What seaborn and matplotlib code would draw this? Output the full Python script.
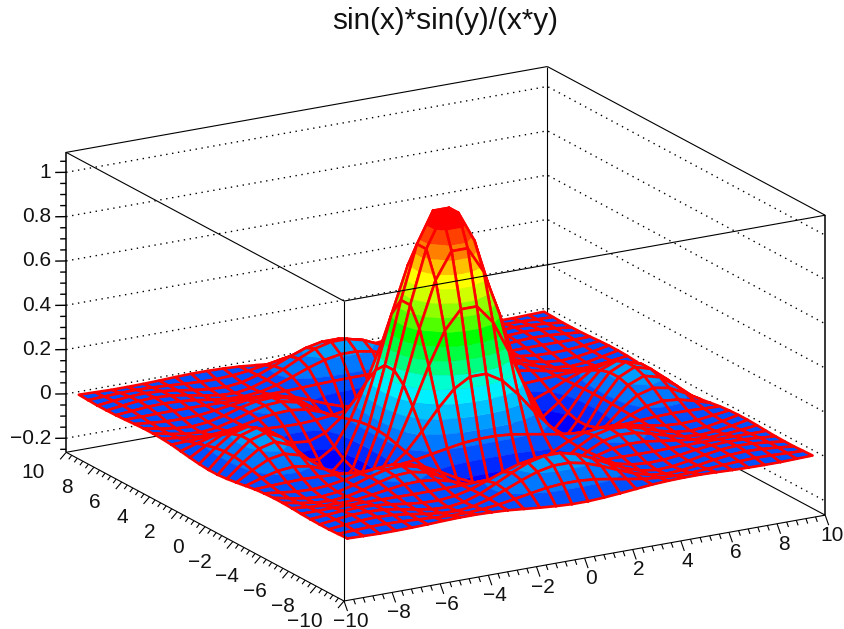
import numpy as np
import matplotlib
matplotlib.use("Agg")
import matplotlib.pyplot as plt
import seaborn as sns
from mpl_toolkits.mplot3d import proj3d
from mpl_toolkits.mplot3d.art3d import Poly3DCollection

# bin centres of the positive half, the surface is the same in all four quadrants
centers = [0.333, 1.0, 1.667, 2.333, 3.0, 3.667, 4.333, 5.0, 5.667, 6.333, 7.0, 7.667, 8.333, 9.0, 9.667]

z_quadrant = [
    [.964, .826, .586, .304, .046, -.135, -.211, -.189, -.100, .008, .092, .126, .104, .045, -.025],
    [.826, .707, .502, .261, .040, -.115, -.181, -.161, -.086, .007, .079, .108, .089, .039, -.021],
    [.586, .502, .356, .185, .028, -.082, -.128, -.115, -.061, .005, .056, .076, .063, .027, -.015],
    [.304, .261, .185, .096, .015, -.042, -.067, -.060, -.032, .002, .029, .040, .033, .014, -.008],
    [.046, .040, .028, .015, .002, -.006, -.010, -.009, -.005, .000, .004, .006, .005, .002, -.001],
    [-.135, -.115, -.082, -.042, -.006, .019, .029, .026, .014, -.001, -.013, -.018, -.015, -.006, .003],
    [-.211, -.181, -.128, -.067, -.010, .029, .046, .041, .022, -.002, -.020, -.028, -.023, -.010, .005],
    [-.189, -.161, -.115, -.060, -.009, .026, .041, .037, .020, -.002, -.018, -.025, -.020, -.009, .005],
    [-.100, -.086, -.061, -.032, -.005, .014, .022, .020, .010, -.001, -.010, -.013, -.011, -.005, .003],
    [.008, .007, .005, .002, .000, -.001, -.002, -.002, -.001, .000, .001, .001, .001, .000, .000],
    [.092, .079, .056, .029, .004, -.013, -.020, -.018, -.010, .001, .009, .012, .010, .004, -.002],
    [.126, .108, .076, .040, .006, -.018, -.028, -.025, -.013, .001, .012, .016, .014, .006, -.003],
    [.104, .089, .063, .033, .005, -.015, -.023, -.020, -.011, .001, .010, .014, .011, .005, -.003],
    [.045, .039, .027, .014, .002, -.006, -.010, -.009, -.005, .000, .004, .006, .005, .002, -.001],
    [-.025, -.021, -.015, -.008, -.001, .003, .005, .005, .003, .000, -.002, -.003, -.003, -.001, .001],
]

band_colors = ["#3000ff", "#0000ff", "#0028ff", "#0050ff", "#0078ff", "#009cff", "#00c4ff", "#00f0ff",
               "#00ffd0", "#00ff80", "#00ff40", "#00ff00", "#50ff00", "#90ff00", "#d0ff00", "#ffff00",
               "#ffc000", "#ff8000", "#ff4000", "#ff0000"]

x_major = [-10, -8, -6, -4, -2, 0, 2, 4, 6, 8, 10]
z_major = [-0.2, 0, 0.2, 0.4, 0.6, 0.8, 1]
z_labels = ["\u22120.2", "0", "0.2", "0.4", "0.6", "0.8", "1"]
x_minor_step = 0.4
z_minor_step = 0.05

z_low, z_high = -0.2636, 1.09
title = "sin(x)*sin(y)/(x*y)"

sns.set_theme(style="white")
plt.rcParams["font.family"] = ["Liberation Sans", "DejaVu Sans"]
palette = sns.color_palette(band_colors)

# full grid from the quadrant
q = np.array(z_quadrant)
grid = np.block([[q[::-1, ::-1], q[::-1, :]], [q[:, ::-1], q]])
xs = np.concatenate([-np.array(centers)[::-1], centers])
levels = np.linspace(-0.211, 0.964, len(band_colors) + 1)

fig = plt.figure(figsize=(8.45, 6.29), dpi=100)
size = 821.0
ax = fig.add_axes([0.0, 0.0, size / 845, size / 629], projection="3d", proj_type="ortho")
ax.computed_zorder = False
ax.set_axis_off()
ax.patch.set_alpha(0)
ax.view_init(elev=18, azim=-120)
ax.set_box_aspect((555, 555, 315))
ax.set_xlim(-10, 10, view_margin=0)
ax.set_ylim(-10, 10, view_margin=0)
ax.set_zlim(z_low, z_high, view_margin=0)


def to_pixels(x, y, z):
    px, py, _ = proj3d.proj_transform(x, y, z, ax.get_proj())
    return ax.transData.transform((px, py))


# move the square axes so the box corners land where the reference has them
for _ in range(3):
    ax.apply_aspect()
    span = to_pixels(10, -10, z_low)[0] - to_pixels(-10, 10, z_low)[0]
    size = size * 759 / span
    ax.set_position([0, 0, size / 845, size / 629])
    ax.apply_aspect()
    front = to_pixels(-10, -10, z_low)
    ax.set_position([(344 - front[0]) / 845, (629 - 601 - front[1]) / 629, size / 845, size / 629])
ax.apply_aspect()


def along_y(px, py):
    # screen offset (right, down) turned into a y and z step
    dy = -px / 13.9
    dz = -(py + 7.55 * dy) / 220.0
    return dy, dz


def along_x(px, py):
    dx = px / 24.05
    dz = -(py + 4.25 * dx) / 220.0
    return dx, dz


def line(xv, yv, zv, order, **kw):
    kw.setdefault("color", "black")
    kw.setdefault("lw", 0.8)
    ax.plot(xv, yv, zv, zorder=order, solid_capstyle="butt", **kw)


def label(x, y, z, s, right, down, ha):
    p = to_pixels(x, y, z)
    fig.text((p[0] + right) / 845, (p[1] - down) / 629, s, ha=ha, va="center", fontsize=15, color="#111111")


# dotted grid on the two back walls
for zv in z_major:
    line([-10, 10, 10], [10, 10, -10], [zv, zv, zv], 1, ls=(0, (1, 3.3)), lw=1.0)

# back edges of the box
line([-10, 10], [10, 10], [z_low, z_low], 1)
line([10, 10], [10, -10], [z_low, z_low], 1)
line([10, 10], [10, 10], [z_low, z_high], 1)
line([-10, 10], [10, 10], [z_high, z_high], 1)
line([10, 10], [10, -10], [z_high, z_high], 1)


def clip(poly, level, above):
    out = []
    for k in range(len(poly)):
        p, q2 = poly[k], poly[(k + 1) % len(poly)]
        p_in = p[2] >= level if above else p[2] <= level
        q_in = q2[2] >= level if above else q2[2] <= level
        if p_in:
            out.append(p)
        if p_in != q_in:
            t = (level - p[2]) / (q2[2] - p[2])
            out.append(tuple(p[m] + t * (q2[m] - p[m]) for m in range(3)))
    return out


# cells back to front, each one cut along the colour levels
n = len(xs)
order = 10
for i in range(n - 2, -1, -1):
    for j in range(n - 2, -1, -1):
        cell = [(xs[i], xs[j], grid[i, j]), (xs[i + 1], xs[j], grid[i + 1, j]),
                (xs[i + 1], xs[j + 1], grid[i + 1, j + 1]), (xs[i], xs[j + 1], grid[i, j + 1])]
        polys, cols = [], []
        for b in range(len(palette)):
            piece = clip(cell, levels[b], True) if b > 0 else cell
            if b < len(palette) - 1 and piece:
                piece = clip(piece, levels[b + 1], False)
            if len(piece) >= 3:
                polys.append(piece)
                cols.append(palette[b])
        pc = Poly3DCollection(polys, facecolors=cols, edgecolors=cols, linewidths=0.3, zorder=order)
        ax.add_collection3d(pc, autolim=False)
        ax.plot(*np.array(cell + cell[:1]).T, color="#ff0000", lw=1.9, zorder=order + 1)
        order += 2

top = order + 10

# front edges of the box
line([-10, -10], [-10, 10], [z_low, z_low], top)
line([-10, 10], [-10, -10], [z_low, z_low], top)
line([-10, -10], [-10, -10], [z_low, z_high], top)
line([-10, -10], [10, 10], [z_low, z_high], top, lw=1.1)
line([10, 10], [-10, -10], [z_low, z_high], top, lw=1.1)
line([-10, -10], [-10, 10], [z_high, z_high], top)
line([-10, 10], [-10, -10], [z_high, z_high], top)

# z axis ticks on the left edge
for zv in np.arange(-0.25, 1.09, z_minor_step):
    is_major = min(abs(zv - m) for m in z_major) < 1e-6
    dy, dz = along_y(-11 if is_major else -6, 0)
    line([-10, -10], [10, 10 + dy], [zv, zv + dz], top, lw=1.0)
for zv, lab in zip(z_major, z_labels):
    label(-10, 10, zv, lab, -15, 0, "right")

# x axis along the front right edge
for xv in np.arange(-10, 10.01, x_minor_step):
    is_major = min(abs(xv - m) for m in x_major) < 1e-6
    dy, dz = along_y(3.5, 10) if is_major else along_y(1.8, 5)
    line([xv, xv], [-10, -10 + dy], [z_low, z_low + dz], top)
for xv in x_major:
    label(xv, -10, z_low, str(xv).replace("-", "\u2212"), 6.5, 20.5, "center")

# y axis along the front left edge
for yv in np.arange(-10, 10.01, x_minor_step):
    is_major = min(abs(yv - m) for m in x_major) < 1e-6
    dx, dz = along_x(-6, 7) if is_major else along_x(-3, 4)
    line([-10, -10 + dx], [yv, yv], [z_low, z_low + dz], top)
for yv in x_major:
    label(-10, yv, z_low, str(yv).replace("-", "\u2212"), -21.5, 20.5, "right")

fig.text(445 / 845, 1 - 21 / 629, title, ha="center", va="center", fontsize=21.4, color="#111111")

fig.savefig("out.png", dpi=100)
